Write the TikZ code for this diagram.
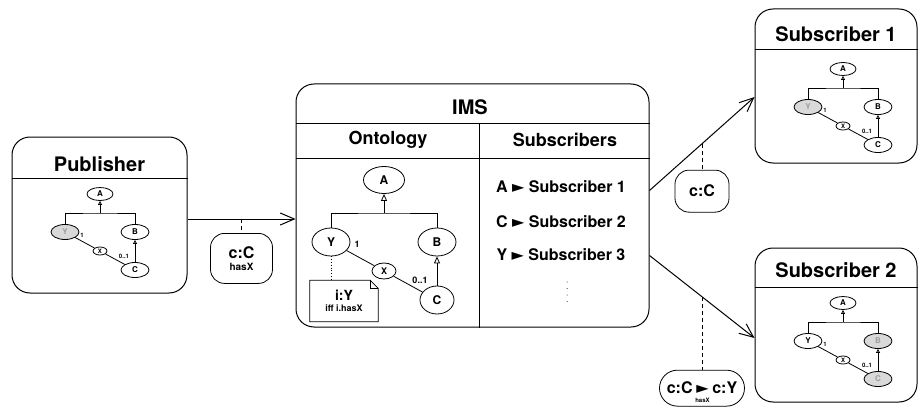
\documentclass[tikz,border=0pt]{standalone}
\usepackage{fontspec}
\setmainfont{TeX Gyre Heros}
\newfontfamily\symfont{DejaVu Sans}
\usetikzlibrary{positioning,shapes.geometric,arrows.meta}

\begin{document}
\begin{tikzpicture}[x=1pt,y=-1pt,
    box/.style={draw, line width=1pt, rounded corners=18pt, inner sep=0pt},
    sep/.style={line width=1pt},
    ttl/.style={font=\fontsize{20}{24}\selectfont\bfseries},
    hdr/.style={font=\fontsize{18}{22}\selectfont\bfseries},
    cls/.style={ellipse, draw, line width=0.8pt, inner sep=0pt, minimum width=38pt, minimum height=28pt, font=\fontsize{12}{14}\selectfont\bfseries},
    mini/.style={ellipse, draw, line width=0.8pt, inner sep=0pt, minimum width=28pt, minimum height=15pt, font=\fontsize{8}{9}\selectfont\bfseries},
    ghost/.style={fill=black!15, text=black!38},
    mult/.style={inner sep=0pt, font=\fontsize{9}{10}\selectfont\bfseries},
    minimult/.style={inner sep=0pt, font=\fontsize{6}{7}\selectfont\bfseries},
    isa/.style={-{Triangle[open, length=7pt, width=6pt]}, line width=0.8pt},
    miniisa/.style={-{Triangle[open, length=4pt, width=4pt]}, line width=0.8pt},
    flow/.style={-{Straight Barb[length=14pt, width=12pt]}, line width=1pt},
    tie/.style={dashed, line width=0.8pt, dash pattern=on 4pt off 3pt},
    tag/.style={draw, line width=0.8pt, rounded corners=14pt, align=center, inner sep=0pt, font=\bfseries},
    entry/.style={font=\fontsize{16}{18}\selectfont\bfseries}]
  \useasboundingbox (0,0) rectangle (919,412);

  % publisher
  \node[box, minimum width=175pt, minimum height=156pt] (pub) at (99.5,215) {};
  \node[ttl] (pubT) at (99.5,164) {Publisher};
  \coordinate (pubS) at (0,178);
  \draw[sep] (pub.west |- pubS) -- (pub.east |- pubS);
  \begin{scope}[shift={(100,194)}]
    \node[mini, minimum width=26pt, minimum height=13pt] (pA) at (0,0) {A};
    \node[mini, ghost] (pY) at (-35,38) {Y};
    \node[mini] (pB) at (35,38) {B};
    \node[mini, minimum width=14pt, minimum height=8pt, font=\fontsize{6}{6}\selectfont\bfseries] (pX) at (0,57) {X};
    \node[mini] (pC) at (35,76) {C};
    \node[minimult] (p1) at (-18,41) {1};
    \node[minimult] (p01) at (24,62) {0..1};
    \coordinate (pbar) at (0,19);
    \draw[line width=0.8pt] (pY.north) |- (pbar) -| (pB.north);
    \draw[miniisa] (pbar) -- (pA);
    \draw[miniisa] (pC) -- (pB);
    \draw[line width=0.8pt] (pY) -- (pX);
    \draw[line width=0.8pt] (pX) -- (pC);
  \end{scope}

  % IMS
  \node[box, minimum width=353pt, minimum height=243pt] (ims) at (472.5,205.5) {};
  \node[ttl] (imsT) at (470,107) {IMS};
  \coordinate (imsS) at (0,123);
  \coordinate (imsH) at (0,158);
  \coordinate (imsC) at (479,0);
  \draw[sep] (ims.west |- imsS) -- (ims.east |- imsS);
  \draw[sep] (ims.west |- imsH) -- (ims.east |- imsH);
  \draw[sep] (imsC |- imsS) -- (imsC |- ims.south);
  \node[hdr] (ontT) at (388,140) {Ontology};
  \node[hdr] (subT) at (565,140) {Subscribers};

  % ontology
  \node[cls, minimum width=41pt, minimum height=27pt] (oA) at (384,180) {A};
  \node[cls] (oY) at (331,242) {Y};
  \node[cls] (oB) at (437,242) {B};
  \node[cls, minimum width=24pt, minimum height=16pt, font=\fontsize{9}{10}\selectfont\bfseries] (oX) at (384,271) {X};
  \node[cls, minimum width=34pt] (oC) at (437,300) {C};
  \node[mult] (o1) at (357,244) {1};
  \node[mult] (o01) at (420,280) {0..1};
  \coordinate (obar) at (384,213);
  \draw[line width=0.8pt] (oY.north) |- (obar) -| (oB.north);
  \draw[isa] (obar) -- (oA);
  \draw[isa] (oC) -- (oB);
  \draw[line width=0.8pt] (oY) -- (oX);
  \draw[line width=0.8pt] (oX) -- (oC);
  \node[align=center, inner sep=0pt, minimum width=68pt, minimum height=41pt] (note) at (344,301)
    {\fontsize{14}{15}\selectfont\bfseries i:Y\\[-1pt]\fontsize{9}{10}\selectfont\bfseries iff i.hasX};
  \draw[line width=0.8pt] (note.north west) -- ([xshift=-8pt]note.north east) -- ([yshift=-8pt]note.north east)
    -- (note.south east) -- (note.south west) -- cycle;
  \draw[line width=0.6pt] ([xshift=-8pt]note.north east) |- ([yshift=-8pt]note.north east);
  \draw[dotted, line width=0.8pt] (oY.south) -- (oY.south |- note.north);

  % subscribers list
  \node[entry] (e1) at (561,187) {A {\symfont ►} Subscriber 1};
  \node[entry] (e2) at (561,222) {C {\symfont ►} Subscriber 2};
  \node[entry] (e3) at (561,255) {Y {\symfont ►} Subscriber 3};
  \draw[line width=1pt, line cap=round, dash pattern=on 0pt off 6.5pt] (567,282) -- (567,307);

  % subscriber 1
  \node[box, minimum width=162pt, minimum height=154pt] (s1) at (836,86) {};
  \node[ttl] (s1T) at (836,34) {Subscriber 1};
  \coordinate (s1S) at (0,50);
  \draw[sep] (s1.west |- s1S) -- (s1.east |- s1S);
  \begin{scope}[shift={(843,69)}]
    \node[mini, minimum width=26pt, minimum height=13pt] (aA) at (0,0) {A};
    \node[mini, ghost] (aY) at (-35,38) {Y};
    \node[mini] (aB) at (35,38) {B};
    \node[mini, minimum width=14pt, minimum height=8pt, font=\fontsize{6}{6}\selectfont\bfseries] (aX) at (0,57) {X};
    \node[mini] (aC) at (35,76) {C};
    \node[minimult] (a1) at (-18,41) {1};
    \node[minimult] (a01) at (24,62) {0..1};
    \coordinate (abar) at (0,19);
    \draw[line width=0.8pt] (aY.north) |- (abar) -| (aB.north);
    \draw[miniisa] (abar) -- (aA);
    \draw[miniisa] (aC) -- (aB);
    \draw[line width=0.8pt] (aY) -- (aX);
    \draw[line width=0.8pt] (aX) -- (aC);
  \end{scope}

  % subscriber 2
  \node[box, minimum width=162pt, minimum height=154pt] (s2) at (836,325) {};
  \node[ttl] (s2T) at (836,270) {Subscriber 2};
  \coordinate (s2S) at (0,287);
  \draw[sep] (s2.west |- s2S) -- (s2.east |- s2S);
  \begin{scope}[shift={(843,303)}]
    \node[mini, minimum width=26pt, minimum height=13pt] (bA) at (0,0) {A};
    \node[mini] (bY) at (-35,38) {Y};
    \node[mini, ghost] (bB) at (35,38) {B};
    \node[mini, minimum width=14pt, minimum height=8pt, font=\fontsize{6}{6}\selectfont\bfseries] (bX) at (0,57) {X};
    \node[mini, ghost] (bC) at (35,76) {C};
    \node[minimult] (b1) at (-18,41) {1};
    \node[minimult] (b01) at (24,62) {0..1};
    \coordinate (bbar) at (0,19);
    \draw[line width=0.8pt] (bY.north) |- (bbar) -| (bB.north);
    \draw[miniisa] (bbar) -- (bA);
    \draw[miniisa] (bC) -- (bB);
    \draw[line width=0.8pt] (bY) -- (bX);
    \draw[line width=0.8pt] (bX) -- (bC);
  \end{scope}

  % messages
  \draw[flow] ([yshift=-4pt]pub.east) -- coordinate (m1) ([yshift=-4pt]pub.east -| ims.west);
  \draw[flow] ([yshift=15pt]ims.east) -- coordinate (m2) ([yshift=-11pt]s1.west);
  \draw[flow] ([yshift=-50pt]ims.east) -- coordinate (m3) ([yshift=-13pt]s2.west);
  \node[tag, below=14pt of m1, minimum width=62pt, minimum height=50pt] (t1)
    {\fontsize{16}{17}\selectfont c:C\\\fontsize{10}{11}\selectfont hasX};
  \node[tag, below=26pt of m2, minimum width=54pt, minimum height=42pt] (t2)
    {\fontsize{16}{17}\selectfont c:C};
  \node[tag, below=73pt of m3, minimum width=85pt, minimum height=36pt, rounded corners=18pt] (t3)
    {\fontsize{16}{17}\selectfont c:C\,\smash{\begin{tabular}[t]{@{}c@{}}{\symfont ►}\\[-8pt]\fontsize{6}{6}\selectfont hasX\end{tabular}}\,c:Y};
  \draw[tie] (m1) -- (t1);
  \draw[tie] (m2) -- (t2);
  \draw[tie] (m3) -- (t3);
\end{tikzpicture}
\end{document}
